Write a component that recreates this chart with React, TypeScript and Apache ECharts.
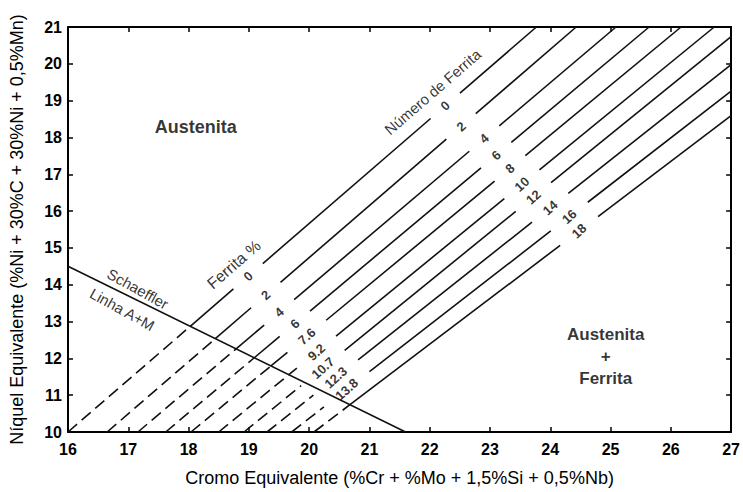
import React, { useEffect, useRef } from 'react';
import * as echarts from 'echarts';

// Iso-ferrite lines (DeLong diagram)
const ferriteNumberLabels = ['0', '2', '4', '6', '8', '10', '12', '14', '16', '18'];
const ferritePercentLabels = ['0', '2', '4', '6', '7.6', '9.2', '10.7', '12.3', '13.8', ''];
// start of each line at Ni_eq = 10
const lineStartCr = [16.0, 16.65, 17.16, 17.62, 18.04, 18.5, 18.92, 19.3, 19.71, 20.08];
// end of each line (top or right border)
const lineEndCr = [23.77, 24.43, 25.09, 25.64, 26.17, 26.72, 27, 27, 27, 27];
const lineEndNi = [21, 21, 21, 21, 21, 21, 20.74, 19.98, 19.26, 18.59];
// Ni_eq where the labels sit on each line
const ferritePercentNi = [14.23, 13.72, 13.25, 12.94, 12.6, 12.17, 11.74, 11.48, 11.16, null];
const ferriteNumberNi = [18.86, 18.3, 17.97, 17.52, 17.16, 16.73, 16.38, 16.09, 15.85, 15.46];

// Schaeffler A+M line
const schaefflerCr = [16, 21.6];
const schaefflerNi = [14.5, 10];

// annotations
const annotationText = ['Austenita', 'Austenita\n+\nFerrita', 'Ferrita %', 'Número de Ferrita', 'Schaeffler', 'Linha A+M'];
const annotationCr = [18.12, 24.92, 18.75, 22.05, 17.16, 16.9];
const annotationNi = [18.29, 12.04, 14.55, 19.24, 13.89, 13.33];

const xName = 'Cromo Equivalente (%Cr + %Mo + 1,5%Si + 0,5%Nb)';
const yName = 'Níquel Equivalente (%Ni + 30%C + 30%Ni + 0,5%Mn)';

export default function App() {
  const ref = useRef<HTMLDivElement>(null);
  useEffect(() => {
    const chart = echarts.init(ref.current!, null, { renderer: 'svg' });
    const black = '#000';
    const font = 'Liberation Sans, Arial, sans-serif';
    const series: any[] = [];
    const seg = (pts: number[][], dashed: boolean) => ({
      type: 'line',
      data: pts,
      symbol: 'none',
      silent: true,
      z: 2,
      lineStyle: { color: '#111', width: 1.6, type: dashed ? [12, 6] : 'solid' },
    });
    const schSlope = (schaefflerNi[1] - schaefflerNi[0]) / (schaefflerCr[1] - schaefflerCr[0]);
    const gap = (t: string) => 0.3 + 0.045 * t.length;
    const fnPts: any[] = [];
    const pctPts: any[] = [];
    for (let i = 0; i < lineStartCr.length; i++) {
      const x0 = lineStartCr[i];
      const y0 = 10;
      const x1 = lineEndCr[i];
      const y1 = lineEndNi[i];
      const m = (x1 - x0) / (y1 - y0);
      const crAt = (ni: number) => x0 + (ni - y0) * m;
      const niS = (schaefflerNi[0] + schSlope * (x0 - schaefflerCr[0] - y0 * m)) / (1 - schSlope * m);
      const breaks: number[][] = [];
      const p = ferritePercentNi[i];
      if (p != null) {
        const g = gap(ferritePercentLabels[i]);
        breaks.push([p - g, p + g]);
        pctPts.push({ value: [crAt(p), p], label: { formatter: ferritePercentLabels[i] } });
      }
      const f = ferriteNumberNi[i];
      const gf = gap(ferriteNumberLabels[i]);
      breaks.push([f - gf, f + gf]);
      fnPts.push({ value: [crAt(f), f], label: { formatter: ferriteNumberLabels[i] } });
      const dashEnd = Math.min(niS, breaks[0][0]);
      series.push(seg([[x0, y0], [crAt(dashEnd), dashEnd]], true));
      let cur = dashEnd;
      for (const [a, b] of breaks) {
        if (a > cur) series.push(seg([[crAt(cur), cur], [crAt(a), a]], false));
        cur = b;
      }
      series.push(seg([[crAt(cur), cur], [x1, y1]], false));
    }
    series.push(seg([[schaefflerCr[0], schaefflerNi[0]], [schaefflerCr[1], schaefflerNi[1]]], false));

    const numLabel = {
      show: true,
      position: 'inside',
      rotate: 42,
      fontSize: 13,
      fontWeight: 'bold',
      color: black,
      textBorderWidth: 0,
      fontFamily: font,
    };
    series.push({ type: 'scatter', symbolSize: 0, silent: true, z: 5, data: fnPts, label: numLabel });
    series.push({ type: 'scatter', symbolSize: 0, silent: true, z: 5, data: pctPts, label: numLabel });

    const annStyles: any[] = [
      { fontSize: 18, fontWeight: 'bold' },
      { fontSize: 17, fontWeight: 'bold', lineHeight: 22 },
      { fontSize: 16, rotate: 41 },
      { fontSize: 15, rotate: 41 },
      { fontSize: 15, rotate: -29 },
      { fontSize: 15, rotate: -29 },
    ];
    series.push({
      type: 'scatter',
      symbolSize: 0,
      silent: true,
      z: 5,
      label: { show: true, position: 'inside', color: black, textBorderWidth: 0, fontFamily: font, align: 'center' },
      data: annotationText.map((t, i) => ({
        value: [annotationCr[i], annotationNi[i]],
        label: { formatter: t, ...annStyles[i] },
      })),
    });

    const axisLine = { onZero: false, lineStyle: { color: black, width: 2 } };
    const axisTick = { inside: true, length: 5, lineStyle: { color: black, width: 1.5 } };
    const tickLabel = { color: black, fontSize: 16, fontWeight: 'bold', fontFamily: font };

    chart.setOption({
      animation: false,
      backgroundColor: '#fff',
      grid: { left: 68, right: 11, top: 27, bottom: 55 },
      xAxis: [
        {
          type: 'value', min: 16, max: 27, interval: 1, position: 'bottom',
          axisLine, axisTick, axisLabel: { ...tickLabel, margin: 9 }, splitLine: { show: false },
          name: xName, nameLocation: 'middle', nameGap: 37,
          nameTextStyle: { fontSize: 18, color: black, fontFamily: font },
        },
        {
          type: 'value', min: 16, max: 27, interval: 1, position: 'top',
          axisLine, axisTick, axisLabel: { show: false }, splitLine: { show: false },
        },
      ],
      yAxis: [
        {
          type: 'value', min: 10, max: 21, interval: 1, position: 'left',
          axisLine, axisTick, axisLabel: { ...tickLabel, margin: 6 }, splitLine: { show: false },
          name: yName, nameLocation: 'middle', nameGap: 42,
          nameTextStyle: { fontSize: 18, color: black, fontFamily: font },
        },
        {
          type: 'value', min: 10, max: 21, interval: 1, position: 'right',
          axisLine, axisTick, axisLabel: { show: false }, splitLine: { show: false },
        },
      ],
      series,
    });
    return () => chart.dispose();
  }, []);
  return (
    <div
      ref={ref}
      style={{ position: 'absolute', left: 0, top: 0, width: 743, height: 492, background: '#fff' }}
    />
  );
}
